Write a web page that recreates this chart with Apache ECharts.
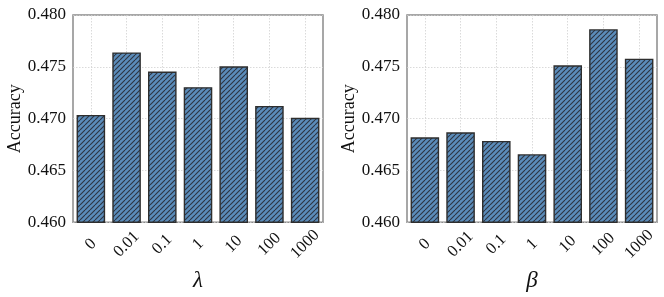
<!DOCTYPE html>
<html><head><meta charset="utf-8">
<script src="https://cdn.jsdelivr.net/npm/echarts@6/dist/echarts.min.js"></script>
<style>html,body{margin:0;padding:0;background:#fff}#c{width:664px;height:297px}</style>
</head><body><div id="c"></div>
<script>
const categories = ['0','0.01','0.1','1','10','100','1000'];
const lambdaValues = [0.47036, 0.47639, 0.47455, 0.47304, 0.47505, 0.47123, 0.47008];
const betaValues = [0.4682, 0.46868, 0.46785, 0.46657, 0.47515, 0.47863, 0.47579];
const yTicks = [0.460, 0.465, 0.470, 0.475, 0.480];

function hatch(){
  const s = 5, c = document.createElement('canvas');
  c.width = s; c.height = s;
  const g = c.getContext('2d');
  g.fillStyle = '#5b8cba'; g.fillRect(0,0,s,s);
  g.strokeStyle = '#2c3440'; g.lineWidth = 1.1;
  for (const k of [-s,0,s]) { g.beginPath(); g.moveTo(k, s); g.lineTo(k+s, 0); g.stroke(); }
  return c;
}
const pat = {image: hatch(), repeat: 'repeat'};
const font = 'Liberation Serif';
const grids = [{left:73, top:15, width:250, height:209}, {left:407, top:15, width:250, height:209}];
const names = ['λ','β'];
const series = [lambdaValues, betaValues];
const option = {
  animation:false,
  grid: grids.map(g=>Object.assign({show:true, borderColor:'#8a8a8a', borderWidth:1.5, backgroundColor:'transparent'}, g)),
  xAxis: [0,1].map(i=>({
    type:'category', gridIndex:i, data:categories,
    axisLine:{show:false}, axisTick:{show:false},
    axisLabel:{rotate:45, align:'center', verticalAlign:'middle', fontFamily:font, fontSize:16.5, color:'#111', margin:22},
    splitLine:{show:true, alignWithLabel:true, lineStyle:{color:'#d0d0d0', type:[1.5,1.5], width:0.8}},
    name:names[i], nameLocation:'middle', nameGap:46,
    nameTextStyle:{fontFamily:font, fontStyle:'italic', fontSize:23, color:'#111'}
  })),
  yAxis: [0,1].map(i=>({
    type:'value', gridIndex:i, min:yTicks[0], max:yTicks[yTicks.length-1], interval:0.005,
    axisLine:{show:false}, axisTick:{show:false},
    axisLabel:{fontFamily:font, fontSize:17, color:'#111', margin:7, formatter:v=>v.toFixed(3)},
    splitLine:{show:true, lineStyle:{color:'#d0d0d0', type:[1.5,1.5], width:0.8}},
    name:'Accuracy', nameLocation:'middle', nameGap:47,
    nameTextStyle:{fontFamily:font, fontSize:18, color:'#111'}
  })),
  series: [0,1].map(i=>({
    type:'bar', xAxisIndex:i, yAxisIndex:i, data:series[i], barWidth:'80%',
    itemStyle:{color:pat, borderColor:'#2e2e2e', borderWidth:1.4}
  }))
};
echarts.init(document.getElementById('c'), null, {renderer:'canvas'}).setOption(option);
</script></body></html>
